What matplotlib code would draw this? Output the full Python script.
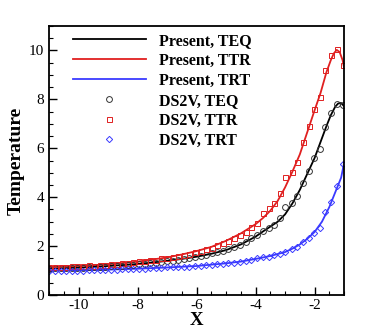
import matplotlib
matplotlib.use("Agg")
import matplotlib.pyplot as plt
from matplotlib.ticker import MultipleLocator

plt.rcParams['font.family'] = ['Liberation Serif', 'DejaVu Serif']
plt.rcParams['axes.unicode_minus'] = False

# solid lines (present model)
x_teq = [-11, -10, -9, -8, -7, -6.5, -6, -5.5, -5, -4.5, -4, -3.75, -3.5, -3.25, -3,
         -2.75, -2.5, -2.25, -2, -1.8, -1.6, -1.45, -1.3, -1.2, -1.1, -1.0]
y_teq = [1.09, 1.12, 1.19, 1.27, 1.40, 1.48, 1.57, 1.69, 1.84, 2.07, 2.39, 2.6, 2.8, 3.0, 3.3,
         3.75, 4.3, 4.95, 5.6, 6.25, 6.9, 7.35, 7.7, 7.83, 7.85, 7.72]

x_ttr = [-11, -10, -9, -8, -7, -6.5, -6, -5.5, -5, -4.5, -4, -3.75, -3.5, -3.25, -3,
         -2.75, -2.5, -2.25, -2, -1.8, -1.6, -1.45, -1.35, -1.25, -1.15, -1.05, -1.0]
y_ttr = [1.15, 1.19, 1.26, 1.37, 1.54, 1.66, 1.80, 1.97, 2.22, 2.52, 2.9, 3.15, 3.45, 3.85, 4.4,
         5.05, 5.75, 6.65, 7.55, 8.25, 9.1, 9.6, 9.87, 10.02, 9.93, 9.6, 9.3]

x_trt = [-11, -10, -9, -8, -7, -6, -5, -4.5, -4, -3.5, -3, -2.75, -2.5, -2.25, -2,
         -1.75, -1.5, -1.3, -1.1, -1.0]
y_trt = [1.0, 1.01, 1.04, 1.08, 1.13, 1.19, 1.30, 1.37, 1.48, 1.6, 1.76, 1.9, 2.07, 2.3, 2.58,
         3.0, 3.6, 4.2, 4.8, 5.4]

# DS2V symbols
x_ds = [-10.99, -10.80, -10.61, -10.42, -10.23, -10.04, -9.85, -9.66, -9.47, -9.28, -9.09,
        -8.90, -8.71, -8.52, -8.33, -8.14, -7.95, -7.76, -7.57, -7.38, -7.19, -7.00, -6.81,
        -6.62, -6.43, -6.24, -6.05, -5.86, -5.67, -5.48, -5.31, -5.11, -4.92, -4.73, -4.53,
        -4.33, -4.14, -3.96, -3.75, -3.55, -3.38, -3.18, -2.99, -2.78, -2.59, -2.40, -2.20,
        -2.01, -1.81, -1.63, -1.44, -1.24, -1.05]
ds_teq = [1.08, 1.09, 1.09, 1.10, 1.11, 1.11, 1.12, 1.13, 1.14, 1.15, 1.17, 1.18, 1.20, 1.21,
          1.23, 1.24, 1.27, 1.29, 1.31, 1.33, 1.36, 1.38, 1.41, 1.44, 1.47, 1.51, 1.55, 1.59,
          1.64, 1.71, 1.75, 1.82, 1.89, 1.96, 2.05, 2.19, 2.32, 2.46, 2.62, 2.73, 2.87, 3.14,
          3.62, 3.78, 4.06, 4.60, 5.08, 5.60, 5.97, 6.87, 7.44, 7.81, 7.77]
ds_ttr = [1.16, 1.15, 1.17, 1.16, 1.18, 1.20, 1.19, 1.22, 1.21, 1.24, 1.25, 1.27, 1.29, 1.30,
          1.33, 1.34, 1.38, 1.40, 1.44, 1.45, 1.50, 1.53, 1.56, 1.60, 1.65, 1.70, 1.76, 1.82,
          1.89, 1.94, 2.06, 2.12, 2.23, 2.32, 2.46, 2.60, 2.77, 2.94, 3.37, 3.55, 3.76, 4.19,
          4.82, 5.03, 5.42, 6.27, 6.91, 7.60, 8.10, 9.19, 9.81, 10.04, 9.40]
ds_trt = [0.98, 0.99, 0.98, 0.99, 0.99, 1.00, 1.00, 1.01, 1.01, 1.02, 1.03, 1.03, 1.04, 1.05,
          1.06, 1.06, 1.08, 1.08, 1.10, 1.10, 1.12, 1.13, 1.14, 1.15, 1.16, 1.17, 1.19, 1.20,
          1.22, 1.24, 1.27, 1.29, 1.31, 1.33, 1.36, 1.39, 1.43, 1.50, 1.54, 1.57, 1.63, 1.68,
          1.76, 1.87, 1.98, 2.17, 2.35, 2.55, 2.73, 3.41, 3.82, 4.44, 5.37]

red = '#e02020'
blue = '#3a3aff'

fig = plt.figure(figsize=(3.74, 3.32), dpi=100)
ax = fig.add_axes([0.131, 0.111, 0.789, 0.811])

ax.plot(x_teq, y_teq, color='black', lw=1.3, label='Present, TEQ')
ax.plot(x_ttr, y_ttr, color=red, lw=1.3, label='Present, TTR')
ax.plot(x_trt, y_trt, color=blue, lw=1.3, label='Present, TRT')
ax.plot(x_ds, ds_teq, 'o', ms=4.2, mfc='none', mec='#333333', mew=0.7, label='DS2V, TEQ')
ax.plot(x_ds, ds_ttr, 's', ms=3.6, mfc='none', mec=red, mew=0.7, label='DS2V, TTR')
ax.plot(x_ds, ds_trt, 'D', ms=3.2, mfc='none', mec=blue, mew=0.7, label='DS2V, TRT')

ax.set_xlim(-11, -1)
ax.set_ylim(0, 11)
ax.xaxis.set_major_locator(MultipleLocator(2))
ax.xaxis.set_minor_locator(MultipleLocator(0.5))
ax.yaxis.set_major_locator(MultipleLocator(2))
ax.yaxis.set_minor_locator(MultipleLocator(0.5))
ax.tick_params(which='both', direction='in', top=False, right=False, labelsize=11)
ax.tick_params(which='major', length=5.5, width=1.0)
ax.tick_params(which='minor', length=3, width=0.8)
ax.tick_params(axis='x', pad=3)
for s in ax.spines.values():
    s.set_linewidth(1.3)

ax.set_xlabel('X', fontsize=13.5, fontweight='bold', labelpad=0)
ax.set_ylabel('Temperature', fontsize=14, fontweight='bold', labelpad=3)

ax.legend(loc='upper left', bbox_to_anchor=(0.08, 0.975), frameon=False,
          prop={'weight': 'bold', 'size': 11.5}, handlelength=4.6, handletextpad=0.8,
          labelspacing=0.25, borderpad=0, borderaxespad=0)

fig.savefig('out.png', dpi=100)
